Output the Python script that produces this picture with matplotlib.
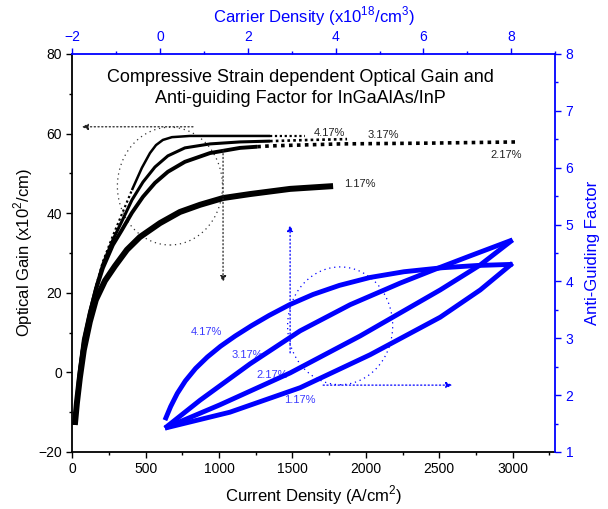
import matplotlib
matplotlib.use("Agg")
import matplotlib.pyplot as plt
from matplotlib.patches import Ellipse
from matplotlib.ticker import MultipleLocator

plt.rcParams['font.family'] = ['Liberation Sans', 'DejaVu Sans']
plt.rcParams['mathtext.fontset'] = 'custom'
plt.rcParams['mathtext.rm'] = 'Liberation Sans'

BLUE = '#0000ff'

strains = ['4.17%', '3.17%', '2.17%', '1.17%']

# optical gain (x10^2/cm) vs current density (A/cm^2)
gain_j = {
    '4.17%': [17, 31, 51, 78, 119, 160, 208, 276, 338, 406, 474, 529, 570, 617, 679, 801, 1074, 1347, 1586],
    '3.17%': [17, 31, 51, 78, 119, 160, 208, 276, 338, 406, 481, 563, 651, 767, 938, 1143, 1347, 1620, 1872],
    '2.17%': [17, 31, 51, 78, 119, 160, 208, 276, 338, 406, 481, 563, 651, 767, 938, 1143, 1260, 1347, 1825,
              2439, 3039],
    '1.17%': [17, 31, 51, 78, 119, 160, 222, 290, 372, 460, 597, 733, 870, 1027, 1211, 1484, 1777],
}
gain_g = {
    '4.17%': [-13.2, -6.9, 0.6, 8.2, 15.2, 21.5, 27.8, 34.3, 39.8, 45.8, 51.4, 55.1, 57.1, 58.4, 59.1, 59.4,
              59.4, 59.4, 59.4],
    '3.17%': [-13.2, -6.9, 0.6, 8.2, 15.2, 21.3, 27.2, 33.3, 38.0, 43.3, 47.8, 51.6, 54.4, 56.4, 57.4, 57.9,
              58.1, 58.4, 58.6],
    '2.17%': [-13.2, -6.9, 0.6, 8.2, 15.0, 20.7, 26.2, 32.0, 35.8, 40.1, 44.1, 47.6, 50.4, 52.9, 55.1, 56.4,
              56.7, 56.9, 57.4, 57.6, 57.9],
    '1.17%': [-13.2, -7.7, -1.4, 5.6, 12.7, 18.2, 23.0, 26.7, 30.8, 34.0, 37.5, 40.3, 42.1, 43.8, 44.8, 46.1,
              46.8],
}
# current density span drawn as a continuous line; the sparse points outside are dotted
solid_span = {'4.17%': (406, 1347), '3.17%': (17, 1347), '2.17%': (17, 1260), '1.17%': (17, 1777)}
gain_lw = {'4.17%': 1.8, '3.17%': 2.2, '2.17%': 2.8, '1.17%': 4.3}
tail_lw = {'4.17%': 1.6, '3.17%': 1.9, '2.17%': 2.6, '1.17%': 4.0}

# anti-guiding factor vs current density (A/cm^2)
alpha_j = {
    '4.17%': [631, 670, 715, 770, 840, 920, 1010, 1110, 1220, 1340, 1480, 1640, 1820, 2030, 2260, 2520,
              2760, 3000],
    '3.17%': [631, 870, 1211, 1552, 1893, 2234, 2459, 2712, 3000],
    '2.17%': [631, 1006, 1484, 1961, 2507, 2780, 3000],
    '1.17%': [631, 1074, 1552, 2029, 2507, 2780, 3000],
}
alpha_v = {
    '4.17%': [1.56, 1.80, 2.03, 2.25, 2.47, 2.67, 2.86, 3.04, 3.22, 3.40, 3.59, 3.77, 3.93, 4.07, 4.17, 4.24,
              4.28, 4.30],
    '3.17%': [1.42, 1.91, 2.55, 3.13, 3.59, 3.97, 4.20, 4.45, 4.73],
    '2.17%': [1.42, 1.83, 2.39, 3.04, 3.85, 4.29, 4.73],
    '1.17%': [1.42, 1.70, 2.13, 2.71, 3.37, 3.85, 4.32],
}

gain_label_pos = {'4.17%': (1750, 60.2), '3.17%': (2118, 59.6), '2.17%': (2957, 54.6), '1.17%': (1961, 47.3)}
alpha_label_pos = {'4.17%': (917, 10.2), '3.17%': (1190, 4.4), '2.17%': (1361, -0.7), '1.17%': (1552, -6.9)}

fig = plt.figure(figsize=(6.08, 5.09), dpi=100)
ax = fig.add_axes([0.119, 0.112, 0.794, 0.782])
ax2 = ax.twinx()
ax3 = ax.twiny()

for s in strains:
    j, g = gain_j[s], gain_g[s]
    lo, hi = solid_span[s]
    i0, i1 = j.index(lo), j.index(hi)
    ax.plot(j[i0:i1 + 1], g[i0:i1 + 1], color='black', lw=gain_lw[s],
            solid_capstyle='butt', solid_joinstyle='round')
    if i0 > 0:
        ax.plot(j[:i0 + 1], g[:i0 + 1], color='black', lw=tail_lw[s], ls=(0, (1, 1.2)))
    if i1 < len(j) - 1:
        ax.plot(j[i1:], g[i1:], color='black', lw=tail_lw[s], ls=(0, (1, 1.2)))
    ax.text(*gain_label_pos[s], s, fontsize=8, color='#222222', ha='center', va='center')

for s in strains:
    ax2.plot(alpha_j[s], alpha_v[s], color=BLUE, lw=3.5, solid_capstyle='butt', solid_joinstyle='round')
    ax.text(*alpha_label_pos[s], s, fontsize=8, color='#3a3aff', ha='center', va='center')

# guide circles with arrows pointing to the axis each family belongs to
arrow_kw = dict(arrowstyle='-|>', ls=(0, (1, 2)), lw=0.9, mutation_scale=9, shrinkA=0, shrinkB=0)
ax.add_patch(Ellipse((665, 46.8), 716, 29.6, fill=False, ls=(0, (1, 3)), lw=0.9, color='#333333'))
ax.annotate('', xy=(65, 61.7), xytext=(822, 61.7), arrowprops=dict(color='#222222', **arrow_kw))
ax.annotate('', xy=(1027, 22.7), xytext=(1027, 55.9), arrowprops=dict(color='#222222', **arrow_kw))
ax.add_patch(Ellipse((1825, 11.7), 716, 29.6, fill=False, ls=(0, (1, 3)), lw=0.9, color=BLUE))
ax.annotate('', xy=(1484, 37.0), xytext=(1484, 4.9), arrowprops=dict(color=BLUE, **arrow_kw))
ax.annotate('', xy=(2589, -3.2), xytext=(1709, -3.2), arrowprops=dict(color=BLUE, **arrow_kw))

ax.text(0.4715, 0.915, 'Compressive Strain dependent Optical Gain and\nAnti-guiding Factor for InGaAlAs/InP',
        transform=ax.transAxes, ha='center', va='center', fontsize=13, linespacing=1.32)

ax.set_xlim(0, 3290)
ax.set_ylim(-20, 80)
ax2.set_ylim(1, 8)
ax3.set_xlim(-2, 9)

ax.xaxis.set_major_locator(MultipleLocator(500))
ax.xaxis.set_minor_locator(MultipleLocator(250))
ax.yaxis.set_major_locator(MultipleLocator(20))
ax.yaxis.set_minor_locator(MultipleLocator(10))
ax2.yaxis.set_major_locator(MultipleLocator(1))
ax2.yaxis.set_minor_locator(MultipleLocator(0.5))
ax3.xaxis.set_major_locator(MultipleLocator(2))
ax3.xaxis.set_minor_locator(MultipleLocator(1))

for a in (ax, ax2, ax3):
    for sp in a.spines.values():
        sp.set_visible(False)
        sp.set_linewidth(1.3)
ax.spines['left'].set_visible(True)
ax.spines['bottom'].set_visible(True)
ax2.spines['right'].set_visible(True)
ax2.spines['right'].set_color(BLUE)
ax3.spines['top'].set_visible(True)
ax3.spines['top'].set_color(BLUE)

ax.tick_params(which='major', direction='out', length=4, width=1, labelsize=10)
ax.tick_params(which='minor', direction='out', length=2.5, width=1)
for a in (ax2, ax3):
    a.tick_params(which='both', colors=BLUE, labelcolor=BLUE, labelsize=10)
    a.tick_params(which='major', length=4, width=1)
    a.tick_params(which='minor', length=2.5, width=1)

ax.set_xlabel('Current Density (A/cm$^2$)', fontsize=12, labelpad=5)
ax.set_ylabel('Optical Gain (x10$^2$/cm)', fontsize=12, labelpad=2)
ax2.set_ylabel('Anti-Guiding Factor', fontsize=12, color=BLUE, labelpad=8)
ax3.set_xlabel('Carrier Density (x10$^{18}$/cm$^3$)', fontsize=12, color=BLUE, labelpad=5)

fig.savefig('out.png', dpi=100)
